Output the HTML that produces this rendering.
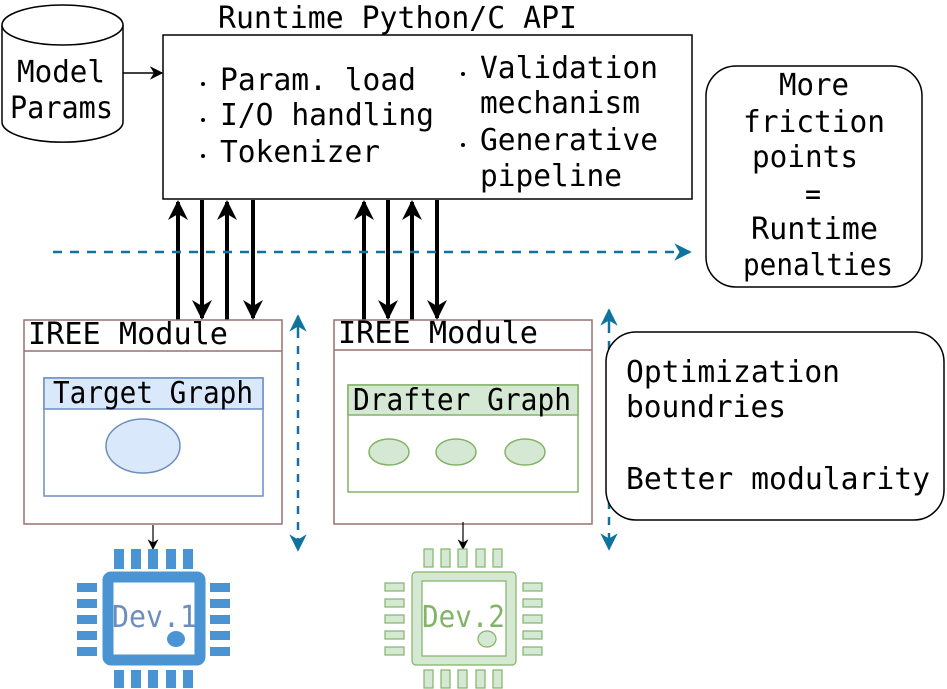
<!DOCTYPE html>
<html><head><meta charset="utf-8"><style>
html,body{margin:0;padding:0;background:#fff;}
svg{display:block;}
text{font-family:"DejaVu Sans Mono","Liberation Mono",monospace;font-size:30px;fill:#000;}
</style></head><body>
<svg width="947" height="689" viewBox="0 0 947 689" xmlns="http://www.w3.org/2000/svg">
<defs>
<marker id="ab" viewBox="0 0 10 10" refX="9" refY="5" markerWidth="5" markerHeight="5" orient="auto" preserveAspectRatio="none"><path d="M0,0 L10,5 L0,10 L3,5 z" fill="#000"/></marker>
<marker id="as" viewBox="0 0 10 10" refX="9" refY="5" markerWidth="9" markerHeight="9" orient="auto"><path d="M0,0 L10,5 L0,10 L3,5 z" fill="#000"/></marker>
<marker id="at" viewBox="0 0 10 10" refX="9" refY="5" markerWidth="7" markerHeight="7" orient="auto"><path d="M0,0 L10,5 L0,10 L3,5 z" fill="#10739e"/></marker>
</defs>
<!-- cylinder -->
<path d="M2,25 L2,122 A60,20 0 0 0 123,122 L123,25" fill="#fff" stroke="#000" stroke-width="1.5"/>
<ellipse cx="62.5" cy="25" rx="60.5" ry="20" fill="#fff" stroke="#000" stroke-width="1.5"/>
<text x="17" y="82" textLength="88" lengthAdjust="spacingAndGlyphs">Model</text>
<text x="10" y="118" textLength="103" lengthAdjust="spacingAndGlyphs">Params</text>
<line x1="123" y1="73" x2="162" y2="73" stroke="#000" stroke-width="1.5" marker-end="url(#as)"/>
<!-- runtime -->
<text x="218" y="28" textLength="359" lengthAdjust="spacingAndGlyphs">Runtime Python/C API</text>
<rect x="163" y="35" width="529" height="164" fill="#fff" stroke="#000" stroke-width="1.5"/>
<g fill="#000">
<circle cx="203" cy="84" r="2"/><circle cx="203" cy="120" r="2"/><circle cx="203" cy="156" r="2"/>
<circle cx="463" cy="74" r="2"/><circle cx="463" cy="145" r="2"/>
</g>
<text x="220" y="90" textLength="196" lengthAdjust="spacingAndGlyphs">Param. load</text>
<text x="220" y="125" textLength="214" lengthAdjust="spacingAndGlyphs">I/O handling</text>
<text x="220" y="162" textLength="160" lengthAdjust="spacingAndGlyphs">Tokenizer</text>
<text x="480" y="78" textLength="178" lengthAdjust="spacingAndGlyphs">Validation</text>
<text x="480" y="113" textLength="160" lengthAdjust="spacingAndGlyphs">mechanism</text>
<text x="480" y="150" textLength="178" lengthAdjust="spacingAndGlyphs">Generative</text>
<text x="480" y="186" textLength="142" lengthAdjust="spacingAndGlyphs">pipeline</text>
<!-- vertical arrows -->
<g stroke="#000" stroke-width="4" marker-end="url(#ab)">
<line x1="178" y1="320" x2="178" y2="202"/>
<line x1="202" y1="200" x2="202" y2="318"/>
<line x1="227" y1="320" x2="227" y2="202"/>
<line x1="253" y1="200" x2="253" y2="318"/>
<line x1="364" y1="320" x2="364" y2="202"/>
<line x1="388" y1="200" x2="388" y2="318"/>
<line x1="412" y1="320" x2="412" y2="202"/>
<line x1="437" y1="200" x2="437" y2="318"/>
</g>
<!-- dashed -->
<line x1="53" y1="252" x2="690" y2="252" stroke="#10739e" stroke-width="2.5" stroke-dasharray="9,8" marker-end="url(#at)"/>
<line x1="298" y1="330" x2="298" y2="316" stroke="#10739e" stroke-width="2.5" marker-end="url(#at)"/>
<line x1="298" y1="330" x2="298" y2="550" stroke="#10739e" stroke-width="2.5" stroke-dasharray="8,8" marker-end="url(#at)"/>
<line x1="609" y1="325" x2="609" y2="310" stroke="#10739e" stroke-width="2.5" marker-end="url(#at)"/>
<line x1="609" y1="325" x2="609" y2="549" stroke="#10739e" stroke-width="2.5" stroke-dasharray="8,8" marker-end="url(#at)"/>
<!-- left IREE -->
<rect x="24" y="320" width="258" height="204" fill="#fff" stroke="#9a7070" stroke-width="1.5"/>
<line x1="24" y1="351" x2="282" y2="351" stroke="#9a7070" stroke-width="1.5"/>
<text x="28" y="344" textLength="200" lengthAdjust="spacingAndGlyphs">IREE Module</text>
<rect x="44" y="378" width="219" height="118" fill="#fff" stroke="#6c8ebf" stroke-width="1.5"/>
<rect x="44" y="378" width="219" height="31" fill="#dae8fc" stroke="#6c8ebf" stroke-width="1.5"/>
<text x="53" y="403" textLength="200" lengthAdjust="spacingAndGlyphs">Target Graph</text>
<ellipse cx="143" cy="446" rx="37" ry="27" fill="#dae8fc" stroke="#6c8ebf" stroke-width="1.5"/>
<!-- right IREE -->
<rect x="334" y="320" width="258" height="204" fill="#fff" stroke="#9a7070" stroke-width="1.5"/>
<line x1="334" y1="350" x2="592" y2="350" stroke="#9a7070" stroke-width="1.5"/>
<text x="338" y="343" textLength="200" lengthAdjust="spacingAndGlyphs">IREE Module</text>
<rect x="348" y="385" width="230" height="107" fill="#fff" stroke="#82b366" stroke-width="1.5"/>
<rect x="348" y="385" width="230" height="30" fill="#d5e8d4" stroke="#82b366" stroke-width="1.5"/>
<text x="353" y="410" textLength="218" lengthAdjust="spacingAndGlyphs">Drafter Graph</text>
<ellipse cx="389" cy="452" rx="20" ry="13" fill="#d5e8d4" stroke="#82b366" stroke-width="1.5"/>
<ellipse cx="456" cy="452" rx="20" ry="13" fill="#d5e8d4" stroke="#82b366" stroke-width="1.5"/>
<ellipse cx="525" cy="452" rx="20" ry="13" fill="#d5e8d4" stroke="#82b366" stroke-width="1.5"/>
<!-- rounded boxes -->
<rect x="706" y="66" width="216" height="221" rx="30" fill="#fff" stroke="#000" stroke-width="1.5"/>
<text x="779" y="95" textLength="70" lengthAdjust="spacingAndGlyphs">More</text>
<text x="743" y="132" textLength="142" lengthAdjust="spacingAndGlyphs">friction</text>
<text x="752" y="167" textLength="106" lengthAdjust="spacingAndGlyphs">points</text>
<text x="805" y="204" textLength="16" lengthAdjust="spacingAndGlyphs">=</text>
<text x="751" y="239" textLength="127" lengthAdjust="spacingAndGlyphs">Runtime</text>
<text x="743" y="275" textLength="150" lengthAdjust="spacingAndGlyphs">penalties</text>
<rect x="606" y="332" width="338" height="188" rx="30" fill="#fff" stroke="#000" stroke-width="1.5"/>
<text x="626" y="382" textLength="214" lengthAdjust="spacingAndGlyphs">Optimization</text>
<text x="626" y="417" textLength="160" lengthAdjust="spacingAndGlyphs">boundries</text>
<text x="626" y="489" textLength="304" lengthAdjust="spacingAndGlyphs">Better modularity</text>
<!-- chip arrows -->
<line x1="153" y1="525" x2="153" y2="549" stroke="#000" stroke-width="1.2" marker-end="url(#as)"/>
<line x1="463" y1="522" x2="463" y2="549" stroke="#000" stroke-width="1.2" marker-end="url(#as)"/>
<!-- chip 1 -->
<g fill="#4a94d4">
<rect x="114" y="549" width="10" height="20"/><rect x="131" y="549" width="10" height="20"/><rect x="148" y="549" width="10" height="20"/><rect x="166" y="549" width="10" height="20"/><rect x="183" y="549" width="10" height="20"/>
<rect x="114" y="670" width="10" height="18"/><rect x="131" y="670" width="10" height="18"/><rect x="148" y="670" width="10" height="18"/><rect x="166" y="670" width="10" height="18"/><rect x="183" y="670" width="10" height="18"/>
<rect x="77" y="583" width="20" height="9"/><rect x="77" y="599" width="20" height="9"/><rect x="77" y="615" width="20" height="9"/><rect x="77" y="631" width="20" height="9"/><rect x="77" y="647" width="20" height="9"/>
<rect x="210" y="583" width="20" height="9"/><rect x="210" y="599" width="20" height="9"/><rect x="210" y="615" width="20" height="9"/><rect x="210" y="631" width="20" height="9"/><rect x="210" y="647" width="20" height="9"/>
</g>
<rect x="108" y="577" width="92" height="83" rx="3" fill="none" stroke="#4a94d4" stroke-width="11"/>
<text x="112" y="627" textLength="85" lengthAdjust="spacingAndGlyphs" style="fill:#6c8ebf;font-size:30px">Dev.1</text>
<ellipse cx="176" cy="639" rx="9" ry="8" fill="#4a94d4"/>
<!-- chip 2 -->
<g fill="#d5e8d4" stroke="#82b366" stroke-width="1.2">
<rect x="424" y="549" width="9" height="18"/><rect x="441" y="549" width="9" height="18"/><rect x="458" y="549" width="9" height="18"/><rect x="476" y="549" width="9" height="18"/><rect x="493" y="549" width="9" height="18"/>
<rect x="424" y="670" width="9" height="18"/><rect x="441" y="670" width="9" height="18"/><rect x="458" y="670" width="9" height="18"/><rect x="476" y="670" width="9" height="18"/><rect x="493" y="670" width="9" height="18"/>
<rect x="385" y="583" width="19" height="8"/><rect x="385" y="599" width="19" height="8"/><rect x="385" y="615" width="19" height="8"/><rect x="385" y="631" width="19" height="8"/><rect x="385" y="647" width="19" height="8"/>
<rect x="523" y="583" width="19" height="8"/><rect x="523" y="599" width="19" height="8"/><rect x="523" y="615" width="19" height="8"/><rect x="523" y="631" width="19" height="8"/><rect x="523" y="647" width="19" height="8"/>
<path fill-rule="evenodd" d="M416,572 h96 a4,4 0 0 1 4,4 v85 a4,4 0 0 1 -4,4 h-96 a4,4 0 0 1 -4,-4 v-85 a4,4 0 0 1 4,-4 z M422,581 v75 h84 v-75 z"/>
</g>
<text x="422" y="627" textLength="83" lengthAdjust="spacingAndGlyphs" style="fill:#82b366;font-size:30px">Dev.2</text>
<ellipse cx="487" cy="639" rx="9" ry="8" fill="#d5e8d4" stroke="#82b366" stroke-width="1.2"/>
</svg>
</body></html>
